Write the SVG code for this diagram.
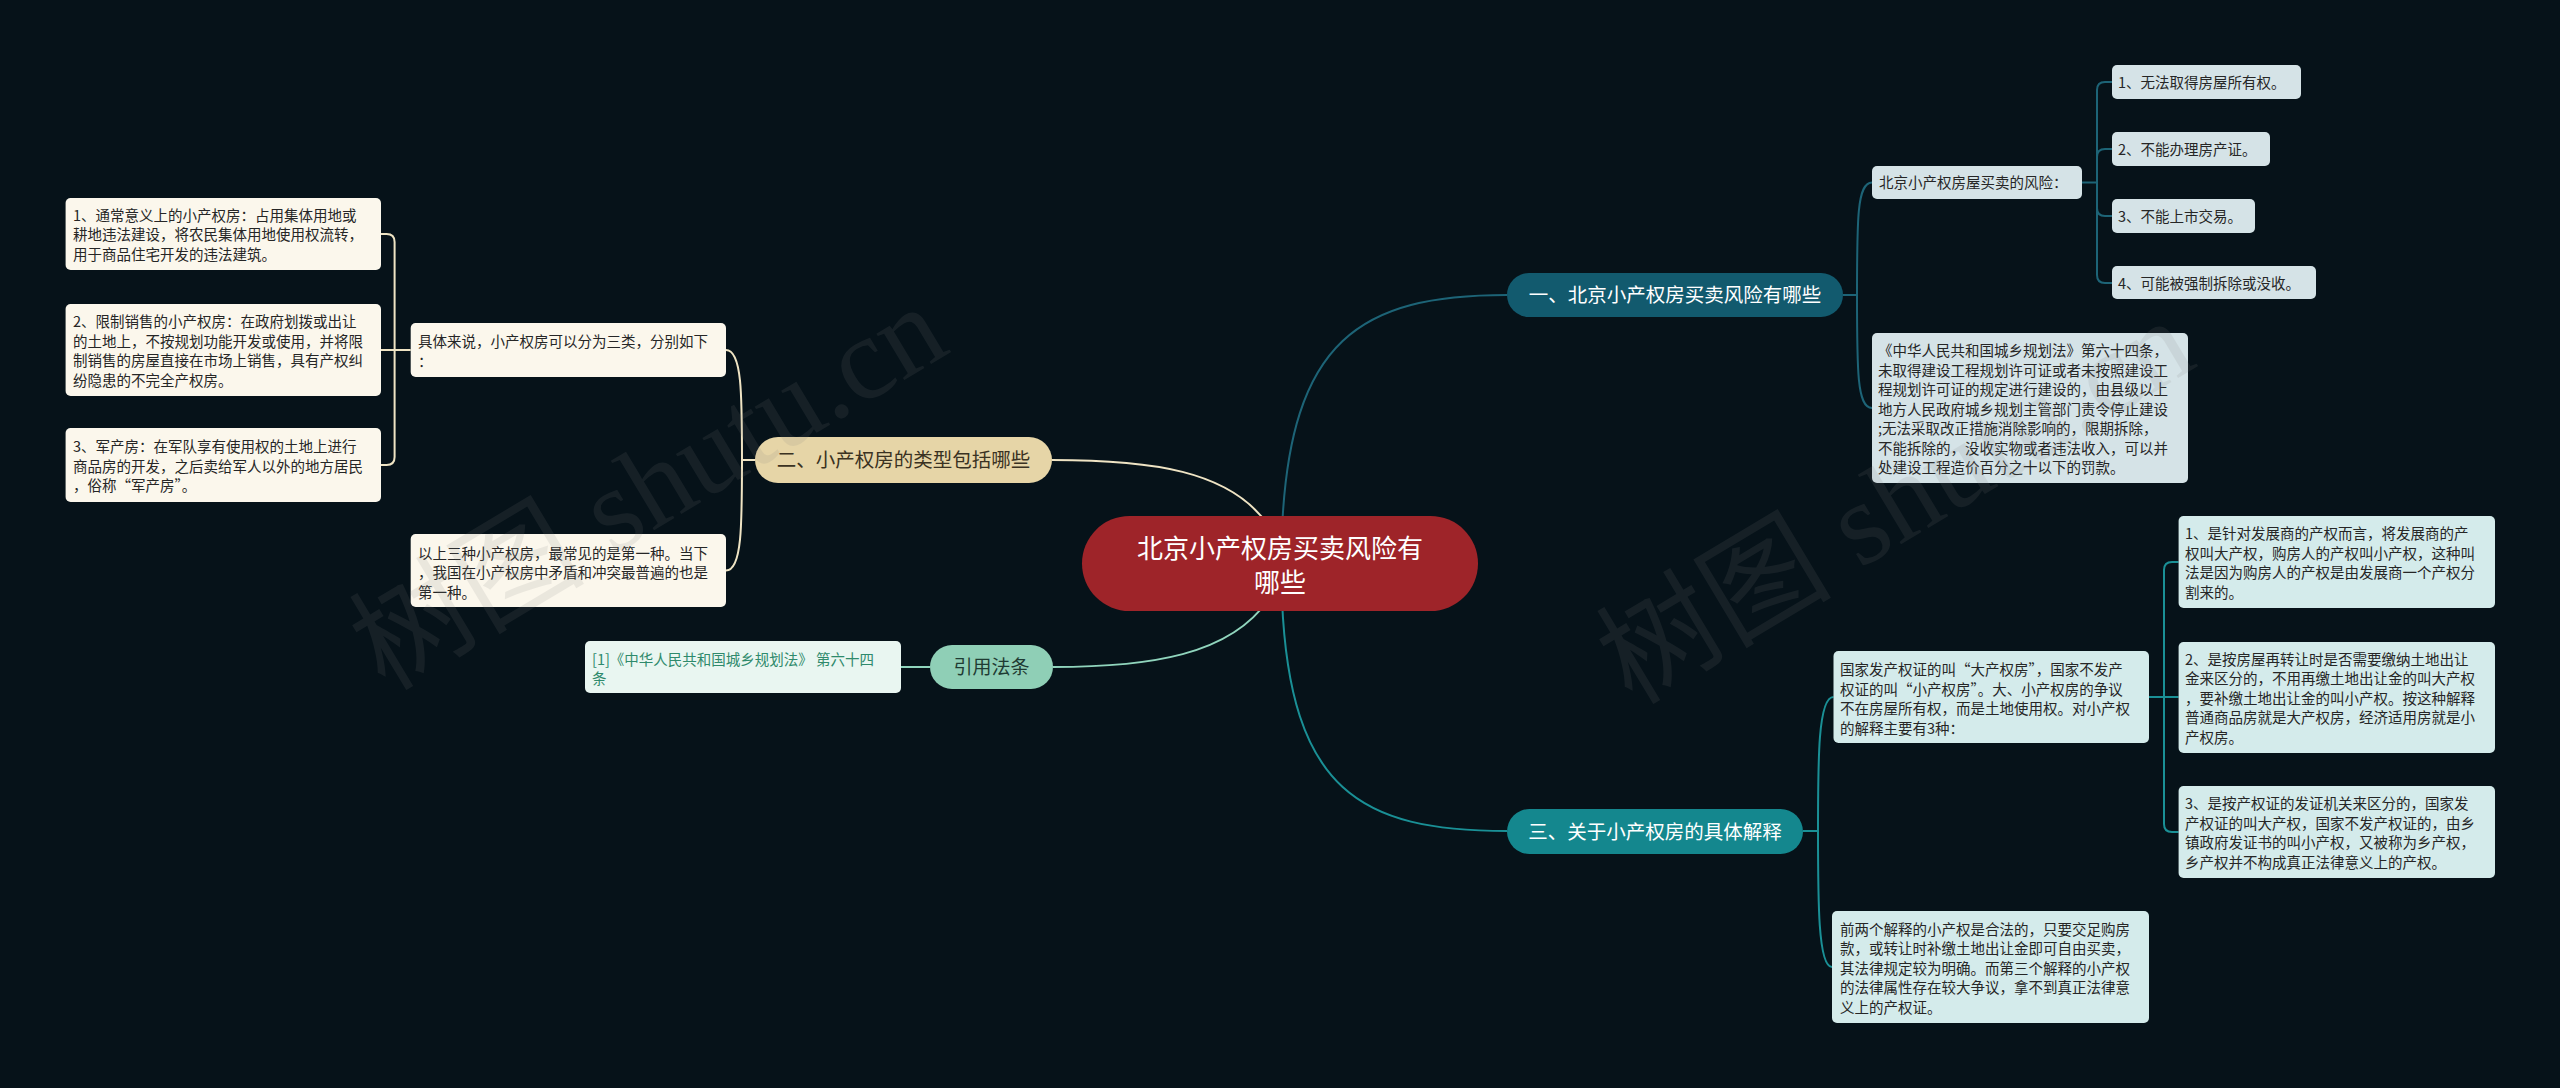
<svg xmlns="http://www.w3.org/2000/svg" width="2560" height="1088" viewBox="0 0 2560 1088">
<style>
.t{font-family:"Noto Sans CJK SC","Liberation Sans",sans-serif}
.leaf{font-size:14.5px;fill:#262626}
.c1{fill:none;stroke:#1d6477;stroke-width:2}
.c3{fill:none;stroke:#1a9096;stroke-width:2}
.c2{fill:none;stroke:#efe4c4;stroke-width:2}
.c4{fill:none;stroke:#90d5bd;stroke-width:2}
.b1leaf{fill:#d5e3e7}
.b3leaf{fill:#d4ebeb}
.b2leaf{fill:#fbf7ec}
.wm{font-family:"Liberation Serif","Noto Sans CJK SC",serif;font-size:118px;fill:#808080;opacity:0.13}
</style>
<rect width="2560" height="1088" fill="#061219"/>
<g id="connectors">
<path class="c1" stroke-width="3" d="M1282,530 C1290,340 1360,295 1507,295"/>
<path class="c3" stroke-width="3" d="M1282,600 C1290,790 1360,831 1507,831"/>
<path class="c2" stroke-width="3" d="M1268,525 C1230,470 1150,460 1052,460"/>
<path class="c4" stroke-width="3" d="M1268,600 C1230,655 1150,667 1053,667"/>
<path class="c1" d="M1843,295 H1857 M1857,295 C1857,220 1857,182.5 1872,182.5 M1857,295 C1857,370 1857,408 1872,408"/>
<path class="c1" d="M2082,182.5 H2097 M2097,182.5 V90 Q2097,82 2105,82 H2112 M2097,182.5 V157 Q2097,149 2105,149 H2112 M2097,182.5 V208 Q2097,216 2105,216 H2112 M2097,182.5 V275 Q2097,283 2105,283 H2112"/>
<path class="c3" d="M1803,831 H1818 M1818,831 C1818,760 1818,697 1833.5,697 M1818,831 C1818,900 1818,967 1832,967"/>
<path class="c3" d="M2149,697 H2178.6 M2164,697 V570 Q2164,562 2172,562 H2178.6 M2164,697 V824 Q2164,832 2172,832 H2178.6"/>
<path class="c2" d="M755,460 H742 M742,460 C742,395 742,350 726,350 M742,460 C742,525 742,570.5 726,570.5"/>
<path class="c2" d="M410.7,350 H381 M394.6,350 V242 Q394.6,234 386.6,234 H381 M394.6,350 V457 Q394.6,465 386.6,465 H381"/>
<path class="c4" d="M930,667 H901"/>
</g>
<g id="root">
<rect x="1082" y="516" width="396" height="95" rx="47.5" fill="#9e2429"/>
<text class="t" font-size="26" fill="#ffffff" text-anchor="middle"><tspan x="1280" y="558">北京小产权房买卖风险有</tspan><tspan x="1280" y="591.5">哪些</tspan></text>
</g>
<g id="branch1">
<rect x="1507" y="273" width="336" height="44" rx="22" fill="#125a6e"/>
<text class="t" x="1675" y="302.4" font-size="19.5" fill="#ffffff" text-anchor="middle">一、北京小产权房买卖风险有哪些</text>
</g>
<g id="branch2">
<rect x="755" y="437" width="297" height="46" rx="23" fill="#e6d5a7"/>
<text class="t" x="903.5" y="467.4" font-size="19.5" fill="#3a3222" text-anchor="middle">二、小产权房的类型包括哪些</text>
</g>
<g id="branch3">
<rect x="1507" y="809" width="296" height="45" rx="22.5" fill="#14878e"/>
<text class="t" x="1655" y="839" font-size="19.5" fill="#ffffff" text-anchor="middle">三、关于小产权房的具体解释</text>
</g>
<g id="branch4">
<rect x="930" y="645" width="123" height="44" rx="22" fill="#8fcfb6"/>
<text class="t" x="991.5" y="674.2" font-size="19" fill="#1f3b33" text-anchor="middle">引用法条</text>
</g>
<g id="risk">
<rect class="b1leaf" x="1872" y="166" width="210" height="33" rx="5"/>
<text class="t leaf" x="1879" y="188">北京小产权房屋买卖的风险：</text>
</g>
<g id="risk1">
<rect class="b1leaf" x="2112" y="65" width="189" height="34" rx="5"/>
<text class="t leaf" x="2118" y="87.5">1、无法取得房屋所有权。</text>
</g>
<g id="risk2">
<rect class="b1leaf" x="2112" y="132" width="158" height="34" rx="5"/>
<text class="t leaf" x="2118" y="154.5">2、不能办理房产证。</text>
</g>
<g id="risk3">
<rect class="b1leaf" x="2112" y="199" width="143" height="34" rx="5"/>
<text class="t leaf" x="2118" y="221.5">3、不能上市交易。</text>
</g>
<g id="risk4">
<rect class="b1leaf" x="2112" y="266" width="204" height="33" rx="5"/>
<text class="t leaf" x="2118" y="288.5">4、可能被强制拆除或没收。</text>
</g>
<g id="law">
<rect class="b1leaf" x="1872" y="333" width="316" height="150" rx="5"/>
<text class="t leaf"><tspan x="1878" y="356">《中华人民共和国城乡规划法》第六十四条，</tspan><tspan x="1878" y="375.5">未取得建设工程规划许可证或者未按照建设工</tspan><tspan x="1878" y="395">程规划许可证的规定进行建设的，由县级以上</tspan><tspan x="1878" y="414.5">地方人民政府城乡规划主管部门责令停止建设</tspan><tspan x="1878" y="434">;无法采取改正措施消除影响的，限期拆除，</tspan><tspan x="1878" y="453.5">不能拆除的，没收实物或者违法收入，可以并</tspan><tspan x="1878" y="473">处建设工程造价百分之十以下的罚款。</tspan></text>
</g>
<g id="expl">
<rect class="b3leaf" x="1833.5" y="651" width="315.5" height="92" rx="5"/>
<text class="t leaf"><tspan x="1840" y="675.25">国家发产权证的叫“大产权房”，国家不发产</tspan><tspan x="1840" y="694.75">权证的叫“小产权房”。大、小产权房的争议</tspan><tspan x="1840" y="714.25">不在房屋所有权，而是土地使用权。对小产权</tspan><tspan x="1840" y="733.75">的解释主要有3种：</tspan></text>
</g>
<g id="expl1">
<rect class="b3leaf" x="2178.6" y="516" width="316.4" height="92" rx="5"/>
<text class="t leaf"><tspan x="2185" y="539.25">1、是针对发展商的产权而言，将发展商的产</tspan><tspan x="2185" y="558.75">权叫大产权，购房人的产权叫小产权，这种叫</tspan><tspan x="2185" y="578.25">法是因为购房人的产权是由发展商一个产权分</tspan><tspan x="2185" y="597.75">割来的。</tspan></text>
</g>
<g id="expl2">
<rect class="b3leaf" x="2178.6" y="642" width="316.4" height="111" rx="5"/>
<text class="t leaf"><tspan x="2185" y="664.5">2、是按房屋再转让时是否需要缴纳土地出让</tspan><tspan x="2185" y="684">金来区分的，不用再缴土地出让金的叫大产权</tspan><tspan x="2185" y="703.5">，要补缴土地出让金的叫小产权。按这种解释</tspan><tspan x="2185" y="723">普通商品房就是大产权房，经济适用房就是小</tspan><tspan x="2185" y="742.5">产权房。</tspan></text>
</g>
<g id="expl3">
<rect class="b3leaf" x="2178.6" y="786" width="316.4" height="92" rx="5"/>
<text class="t leaf"><tspan x="2185" y="809.25">3、是按产权证的发证机关来区分的，国家发</tspan><tspan x="2185" y="828.75">产权证的叫大产权，国家不发产权证的，由乡</tspan><tspan x="2185" y="848.25">镇政府发证书的叫小产权，又被称为乡产权，</tspan><tspan x="2185" y="867.75">乡产权并不构成真正法律意义上的产权。</tspan></text>
</g>
<g id="summary3">
<rect class="b3leaf" x="1832" y="911" width="317" height="112" rx="5"/>
<text class="t leaf"><tspan x="1840" y="934.5">前两个解释的小产权是合法的，只要交足购房</tspan><tspan x="1840" y="954">款，或转让时补缴土地出让金即可自由买卖，</tspan><tspan x="1840" y="973.5">其法律规定较为明确。而第三个解释的小产权</tspan><tspan x="1840" y="993">的法律属性存在较大争议，拿不到真正法律意</tspan><tspan x="1840" y="1012.5">义上的产权证。</tspan></text>
</g>
<g id="types">
<rect class="b2leaf" x="410.7" y="323" width="315.3" height="54" rx="5"/>
<text class="t leaf"><tspan x="418" y="347.25">具体来说，小产权房可以分为三类，分别如下</tspan><tspan x="418" y="366.75">：</tspan></text>
</g>
<g id="type1">
<rect class="b2leaf" x="65.6" y="198" width="315.4" height="72" rx="5"/>
<text class="t leaf"><tspan x="73" y="220.5">1、通常意义上的小产权房：占用集体用地或</tspan><tspan x="73" y="240">耕地违法建设，将农民集体用地使用权流转，</tspan><tspan x="73" y="259.5">用于商品住宅开发的违法建筑。</tspan></text>
</g>
<g id="type2">
<rect class="b2leaf" x="65.6" y="304" width="315.4" height="92" rx="5"/>
<text class="t leaf"><tspan x="73" y="327.25">2、限制销售的小产权房：在政府划拨或出让</tspan><tspan x="73" y="346.75">的土地上，不按规划功能开发或使用，并将限</tspan><tspan x="73" y="366.25">制销售的房屋直接在市场上销售，具有产权纠</tspan><tspan x="73" y="385.75">纷隐患的不完全产权房。</tspan></text>
</g>
<g id="type3">
<rect class="b2leaf" x="65.6" y="428" width="315.4" height="74" rx="5"/>
<text class="t leaf"><tspan x="73" y="452">3、军产房：在军队享有使用权的土地上进行</tspan><tspan x="73" y="471.5">商品房的开发，之后卖给军人以外的地方居民</tspan><tspan x="73" y="491">，俗称“军产房”。</tspan></text>
</g>
<g id="common">
<rect class="b2leaf" x="410.7" y="534" width="315.3" height="73" rx="5"/>
<text class="t leaf"><tspan x="418" y="558.5">以上三种小产权房，最常见的是第一种。当下</tspan><tspan x="418" y="578">，我国在小产权房中矛盾和冲突最普遍的也是</tspan><tspan x="418" y="597.5">第一种。</tspan></text>
</g>
<g id="citation">
<rect x="585" y="641" width="316" height="52" rx="5" fill="#e9f6f1"/>
<text class="t" font-size="14.5" fill="#2f8a6c"><tspan x="592" y="664.75">[1]《中华人民共和国城乡规划法》 第六十四</tspan><tspan x="592" y="684.25">条</tspan></text>
</g>
<g id="watermark">
<text class="wm" transform="translate(385,692) rotate(-31)">树图 shutu.cn</text>
<text class="wm" transform="translate(1632,706) rotate(-31)">树图 shutu.cn</text>
</g>
</svg>
